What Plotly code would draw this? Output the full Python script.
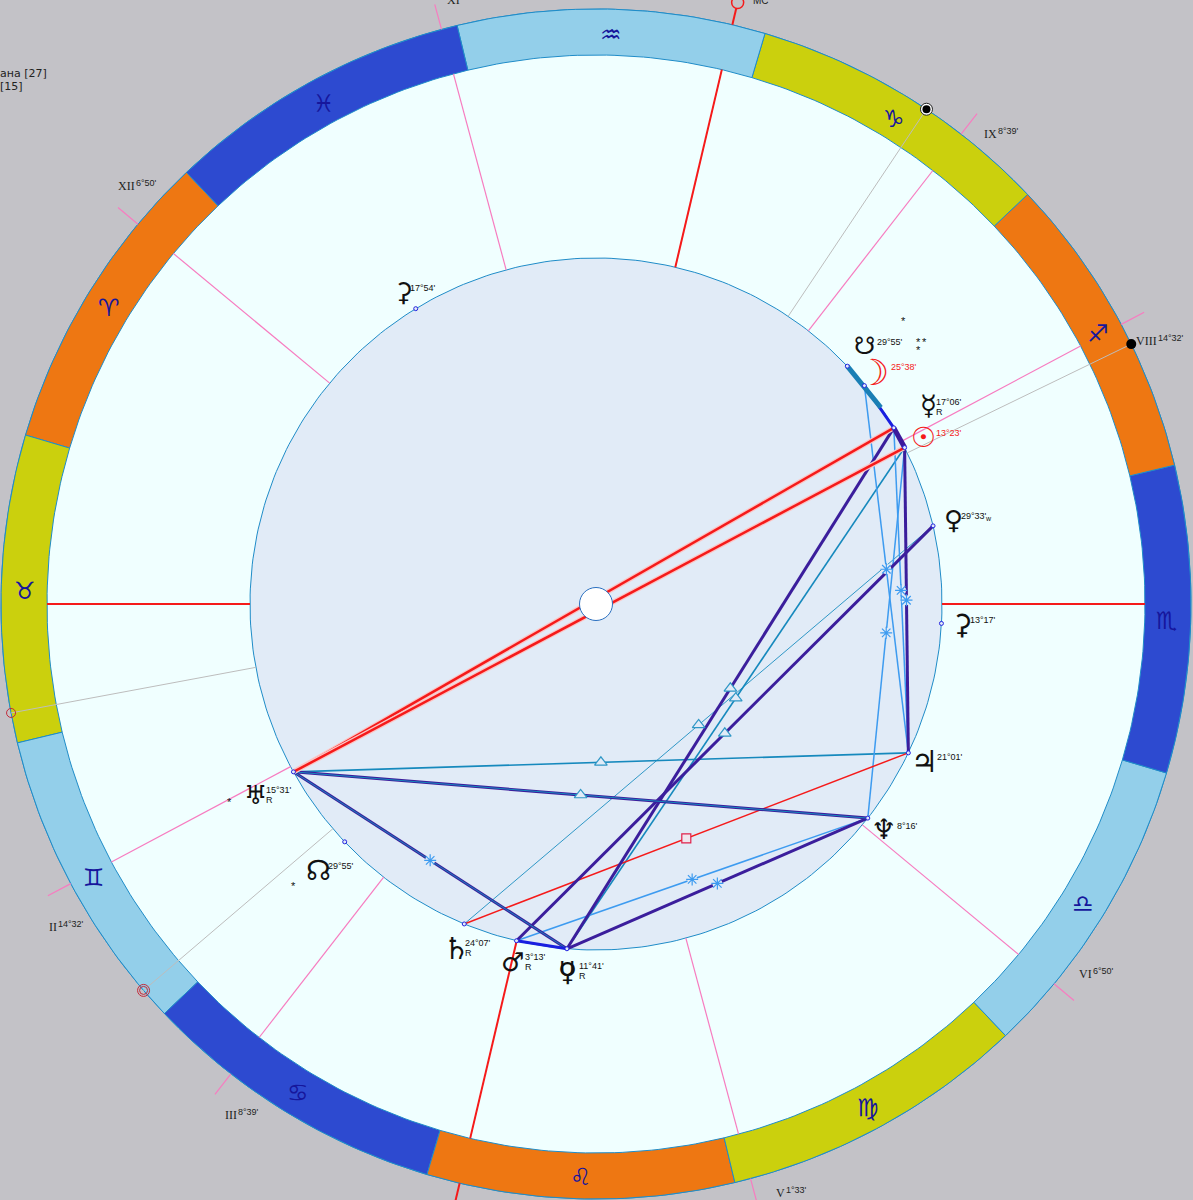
import numpy as np
import plotly.graph_objects as go

# wheel geometry, pixels
CX, CY = 596, 604
R_INNER, R_RING_IN, R_RING_OUT, R_TICK = 346, 549, 595, 621
ROT = 133.5  # chart angle of 0 Aries

BG = '#c3c2c7'
DISK = '#e1ebf7'
FIELD = '#f0ffff'
OUTLINE = '#1f8cc8'

signs = ['♈', '♉', '♊', '♋', '♌', '♍', '♎', '♏', '♐', '♑', '♒', '♓']
sign_colors = ['#ee7712', '#cbd00d', '#93cfea', '#2d4ad0'] * 3

# planets, longitude in degrees from 0 Aries
planets = ['ura', 'sat', 'mar', 'plu', 'nep', 'jup', 'chi', 'ven', 'sun', 'mer', 'moo', 'sno', 'nno', 'pro']
planet_lon = [75.52, 114.12, 123.22, 131.68, 188.27, 201.02, 223.28, 239.55, 253.38, 257.1, 265.63, 269.92, 89.92, 347.9]
planet_glyph = ['♅', '♄', '♂', '♀', '♆', '♃', '⚳', '♀', '☉', '☿', '☽', '☋', '☊', '⚳']
planet_deg = ["15°31'", "24°07'", "3°13'", "11°41'", "8°16'", "21°01'", "13°17'", "29°33'", "13°23'", "17°06'", "25°38'", "29°55'", "29°55'", "17°54'"]
planet_retro = [1, 1, 1, 1, 0, 0, 0, 0, 0, 1, 0, 0, 0, 0]
planet_red = ['sun', 'moo']
# where the glyph sits on the page, and how big
glyph_x = [255, 456, 512, 567, 883, 924, 962, 953, 923, 928, 873, 864, 318, 403]
glyph_y = [795, 948, 962, 972, 829, 761, 624, 520, 437, 405, 372, 346, 870, 292]
glyph_size = [26, 30, 26, 26, 28, 30, 28, 26, 28, 28, 36, 24, 28, 26]
deg_x = [266, 465, 525, 579, 897, 937, 970, 961, 936, 936, 891, 877, 328, 410]
deg_y = [790, 943, 957, 966, 826, 757, 620, 516, 433, 402, 367, 342, 866, 288]

# house cusps
cusp_names = ['II', 'III', 'V', 'VI', 'VIII', 'IX', 'XI', 'XII']
cusp_lon = [74.53, 98.65, 151.55, 186.83, 254.53, 278.65, 331.55, 6.83]
cusp_deg = ["14°32'", "8°39'", "1°33'", "6°50'", "14°32'", "8°39'", "1°33'", "6°50'"]
cusp_label_x = [49, 225, 776, 1079, 1136, 984, 447, 118]
cusp_label_y = [927, 1115, 1193, 974, 341, 134, 0, 186]
asc_lon = [46.5, 226.5]
mc_lon = [303.25, 123.25]

# gray pointers out to the rim
pointer_lon = [282.76, 252.4, 57.05, 87.0]

# aspects, by planet pair
opposition_pairs = [('ura', 'mer'), ('ura', 'sun')]
square_pairs = [('sat', 'jup')]
trine_strong_pairs = [('ura', 'nep'), ('plu', 'mer'), ('mar', 'ven')]
trine_teal_pairs = [('ura', 'jup'), ('plu', 'sun')]
trine_thin_pairs = [('sat', 'ven')]
sextile_strong_pairs = [('ura', 'plu'), ('plu', 'nep'), ('sun', 'jup')]
sextile_light_pairs = [('mar', 'nep'), ('moo', 'jup'), ('sun', 'nep'), ('mer', 'jup')]
conj_purple_pairs = [('mer', 'sun')]
conj_blue_pairs = [('mar', 'plu'), ('moo', 'mer')]
node_arc_lon = [269.92, 261.1]

stars_x = [903, 918, 924, 918, 229, 293]
stars_y = [321, 342, 342, 350, 802, 886]


def pol(lon, r):
    a = np.radians(np.asarray(lon, dtype=float) + ROT)
    return CX + r * np.cos(a), CY - r * np.sin(a)


lon_of = dict(zip(planets, planet_lon))


def pt(name):
    return pol(lon_of[name], R_INNER)


fig = go.Figure()


def line(xs, ys, color, width, **kw):
    fig.add_trace(go.Scatter(x=xs, y=ys, mode='lines', line=dict(color=color, width=width),
                             hoverinfo='skip', showlegend=False, **kw))


def dots(xs, ys, symbol, size, color='rgba(0,0,0,0)', lc=OUTLINE, lw=1):
    fig.add_trace(go.Scatter(x=xs, y=ys, mode='markers',
                             marker=dict(symbol=symbol, size=size, color=color, line=dict(color=lc, width=lw)),
                             hoverinfo='skip', showlegend=False))


def txt(x, y, s, size, color='#111', font='Liberation Sans', anchor='left'):
    fig.add_annotation(x=x, y=y, text=s, showarrow=False, xanchor=anchor, yanchor='middle',
                       font=dict(size=size, color=color, family=font), borderpad=0, borderwidth=0)


# field and ring
t = np.linspace(0, 360, 361)
x, y = pol(t, R_RING_OUT)
line(x, y, OUTLINE, 1, fill='toself', fillcolor=FIELD)
for i, c in enumerate(sign_colors):
    arc = np.linspace(i * 30, (i + 1) * 30, 40)
    xo, yo = pol(arc, R_RING_OUT)
    xi, yi = pol(arc[::-1], R_RING_IN)
    line(np.r_[xo, xi, xo[0]], np.r_[yo, yi, yo[0]], OUTLINE, 1, fill='toself', fillcolor=c)

# inner disk
x, y = pol(t, R_INNER)
line(x, y, OUTLINE, 1, fill='toself', fillcolor=DISK)

# cusps, with the short tick outside the ring
for lon in cusp_lon:
    for r0, r1 in [(R_INNER, R_RING_IN), (R_RING_OUT, R_TICK)]:
        xs, ys = pol([lon, lon], np.array([r0, r1]))
        line(xs, ys, '#f77cc0', 1.2)
for lon in asc_lon:
    xs, ys = pol([lon, lon], np.array([R_INNER, R_RING_IN]))
    line(xs, ys, '#f51a1a', 2)
for lon in mc_lon:
    for r0, r1 in [(R_INNER, R_RING_IN), (R_RING_OUT, 640)]:
        xs, ys = pol([lon, lon], np.array([r0, r1]))
        line(xs, ys, '#f51a1a', 2)

for lon in pointer_lon:
    xs, ys = pol([lon, lon], np.array([R_INNER, R_RING_OUT]))
    line(xs, ys, '#bdbdbd', 1)


def chord(pair, color, width):
    a, b = pt(pair[0]), pt(pair[1])
    line([a[0], b[0]], [a[1], b[1]], color, width)


def mids(pairs):
    xs = [(pt(a)[0] + pt(b)[0]) / 2 for a, b in pairs]
    ys = [(pt(a)[1] + pt(b)[1]) / 2 for a, b in pairs]
    return xs, ys


for p in trine_thin_pairs:
    chord(p, '#2f97c6', 1)
for p in trine_teal_pairs:
    chord(p, '#1689bd', 1.6)
for p in sextile_light_pairs:
    chord(p, '#3d9bf0', 1.5)
for p in square_pairs:
    chord(p, '#f51a1a', 1.5)
for p in trine_strong_pairs + sextile_strong_pairs:
    chord(p, '#3b1e9c', 3)
chord(('ura', 'nep'), '#1689bd', 1)
chord(('ura', 'plu'), '#1689bd', 1)
for p in opposition_pairs:
    chord(p, '#fbc6c6', 5)
    chord(p, '#f51a1a', 2.5)
for p in conj_blue_pairs:
    chord(p, '#1a1fe0', 3)
for p in conj_purple_pairs:
    chord(p, '#3b1a9c', 5)
xs, ys = pol(node_arc_lon, R_INNER)
line(xs, ys, '#1a7fb5', 5)

# aspect symbols at the chord midpoints
xs, ys = mids(trine_strong_pairs + trine_teal_pairs + trine_thin_pairs)
dots(xs, ys, 'triangle-up', 11, DISK, '#2f97c6', 1.2)
xs, ys = mids(sextile_strong_pairs + sextile_light_pairs)
dots(xs, ys, 'circle', 10, DISK, DISK, 0)
dots(xs, ys, 'asterisk-open', 10, '#3d9bf0', '#3d9bf0', 1.2)
xs, ys = mids(square_pairs)
dots(xs, ys, 'square', 9, '#f0e6ee', '#e0204a', 1.2)

# center
dots([CX], [CY], 'circle', 33, 'white', '#2a6fc0', 1)

# planet points
xs, ys = pol(planet_lon, R_INNER)
dots(xs, ys, 'circle', 4, DISK, '#2222e0', 1)

# rim pointers
xs, ys = pol(pointer_lon, R_RING_OUT)
dots([xs[0]], [ys[0]], 'circle', 12, 'white', '#222', 1)
dots([xs[0]], [ys[0]], 'circle', 8, 'black', 'black', 0)
dots([xs[1]], [ys[1]], 'circle', 10, 'black', 'black', 0)
dots([xs[2]], [ys[2]], 'circle', 9, lc='#c22a3a', lw=1)
dots([xs[3]], [ys[3]], 'circle', 12, lc='#c22a3a', lw=1)
dots([xs[3]], [ys[3]], 'circle', 8, lc='#c22a3a', lw=1)
mx, my = pol([mc_lon[0]], 618)
dots(mx, my, 'circle', 12, BG, '#f51a1a', 1.5)

# sign glyphs
for i, s in enumerate(signs):
    gx, gy = pol(i * 30 + 15, 571)
    txt(gx, gy + 2, s, 24, '#16169c', 'DejaVu Sans', 'center')

# planet glyphs and degree labels
for i, name in enumerate(planets):
    col = '#f51a1a' if name in planet_red else '#111'
    txt(glyph_x[i], glyph_y[i], planet_glyph[i], glyph_size[i], col, 'DejaVu Sans', 'center')
    txt(deg_x[i], deg_y[i], planet_deg[i], 9, col)
    if planet_retro[i]:
        txt(deg_x[i], deg_y[i] + 10, 'R', 9)
txt(567, 967, '∪', 26, '#111', 'DejaVu Sans', 'center')  # cup of the pluto glyph
txt(985, 518, 'w', 7)

# roman numeral, then the degree raised beside it
num_w = {'I': 4.0, 'V': 8.7, 'X': 8.7}
for i, name in enumerate(cusp_names):
    txt(cusp_label_x[i], cusp_label_y[i], name, 12, '#222', 'Liberation Serif')
    w = sum(num_w[c] for c in name)
    txt(cusp_label_x[i] + w + 1, cusp_label_y[i] - 3, cusp_deg[i], 9, '#222')
txt(753, 0, 'MC', 10, '#222')

for sx, sy in zip(stars_x, stars_y):
    txt(sx, sy, '*', 11, '#111', 'Liberation Sans', 'center')

txt(0, 73, 'ана [27]', 11, '#222', 'DejaVu Sans')
txt(0, 86, '[15]', 11, '#222', 'DejaVu Sans')

fig.update_xaxes(range=[0, 1193], visible=False, fixedrange=True)
fig.update_yaxes(range=[1200, 0], visible=False, fixedrange=True)
fig.update_layout(width=1193, height=1200, margin=dict(l=0, r=0, t=0, b=0),
                  paper_bgcolor=BG, plot_bgcolor=BG, showlegend=False)
fig.write_html("out.html", post_script="document.body.style.margin='0';", config=dict(displayModeBar=False))
